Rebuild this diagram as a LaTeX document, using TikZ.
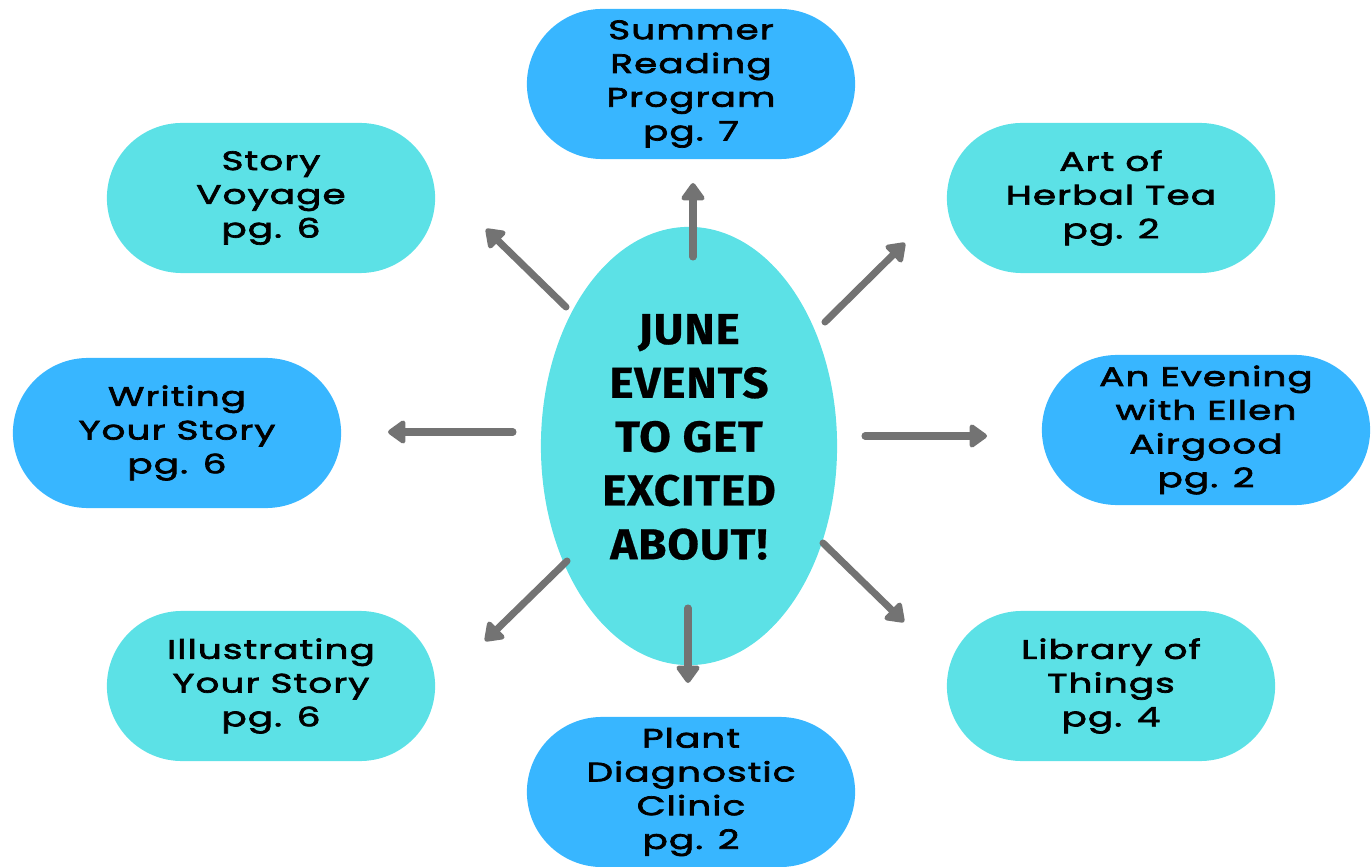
\documentclass[tikz,border=0pt]{standalone}
\usepackage{fontspec}
\usetikzlibrary{shapes.misc,shapes.geometric,arrows.meta}
\newfontfamily\pillfont{Poppins}[FakeStretch=1.4,LetterSpace=4,FakeBold=2.6]
\newfontfamily\bigfont{Fira Sans}[FakeStretch=1.06,LetterSpace=2,FakeBold=0.6]
\definecolor{turq}{HTML}{5CE1E6}
\definecolor{skyblue}{HTML}{38B6FF}
\definecolor{arrowgray}{HTML}{737373}

\begin{document}
\begin{tikzpicture}[x=0.01cm,y=-0.01cm,
    pill/.style={rounded rectangle, minimum width=3.28cm, minimum height=1.5cm,
      inner sep=0pt, align=center, font=\pillfont\fontsize{7.6}{9.6}\selectfont},
    turqpill/.style={pill, fill=turq},
    bluepill/.style={pill, fill=skyblue},
    pointer/.style={draw=arrowgray, line width=2pt, line cap=round,
      -{Triangle[width=7.5pt,length=5.5pt,round]}}]
  \useasboundingbox (0,0) rectangle (1372,867);

  % centre
  \node[ellipse, fill=turq, minimum width=2.96cm, minimum height=4.38cm, inner sep=0pt]
    (june) at (689,446) {};
  \node[align=center, inner sep=0pt, font=\bigfont\fontsize{12.3}{15.3}\selectfont\bfseries]
    (junetext) at (689,437) {JUNE\\EVENTS\\TO GET\\EXCITED\\ABOUT!};

  % events
  \node[bluepill] (summer) at (691,84) {Summer\\Reading\\Program\\pg. 7};
  \node[turqpill] (voyage) at (271,198) {Story\\Voyage\\pg. 6};
  \node[turqpill] (tea) at (1111,198) {Art of\\Herbal Tea\\pg. 2};
  \node[bluepill] (writing) at (177,433) {Writing\\Your Story\\pg. 6};
  \node[bluepill] (ellen) at (1206,430) {An Evening\\with Ellen\\Airgood\\pg. 2};
  \node[turqpill] (illus) at (271,686) {Illustrating\\Your Story\\pg. 6};
  \node[turqpill] (things) at (1111,686) {Library of\\Things\\pg. 4};
  \node[bluepill] (plant) at (691,792) {Plant\\Diagnostic\\Clinic\\pg. 2};

  % arrow ends
  \coordinate (up-s) at (693,257);   \coordinate (up-e) at (693,183);
  \coordinate (ul-s) at (566,307);   \coordinate (ul-e) at (486,229);
  \coordinate (ur-s) at (825,322);   \coordinate (ur-e) at (905,243);
  \coordinate (l-s) at (513,432);    \coordinate (l-e) at (388,432);
  \coordinate (r-s) at (865,436);    \coordinate (r-e) at (987,436);
  \coordinate (dl-s) at (567,561);   \coordinate (dl-e) at (485,641);
  \coordinate (dn-s) at (688,608);   \coordinate (dn-e) at (688,683);
  \coordinate (dr-s) at (823,543);   \coordinate (dr-e) at (904,622);

  \foreach \a in {up,ul,ur,l,r,dl,dn,dr}
    \draw[pointer] (\a-s) -- (\a-e);
\end{tikzpicture}
\end{document}
